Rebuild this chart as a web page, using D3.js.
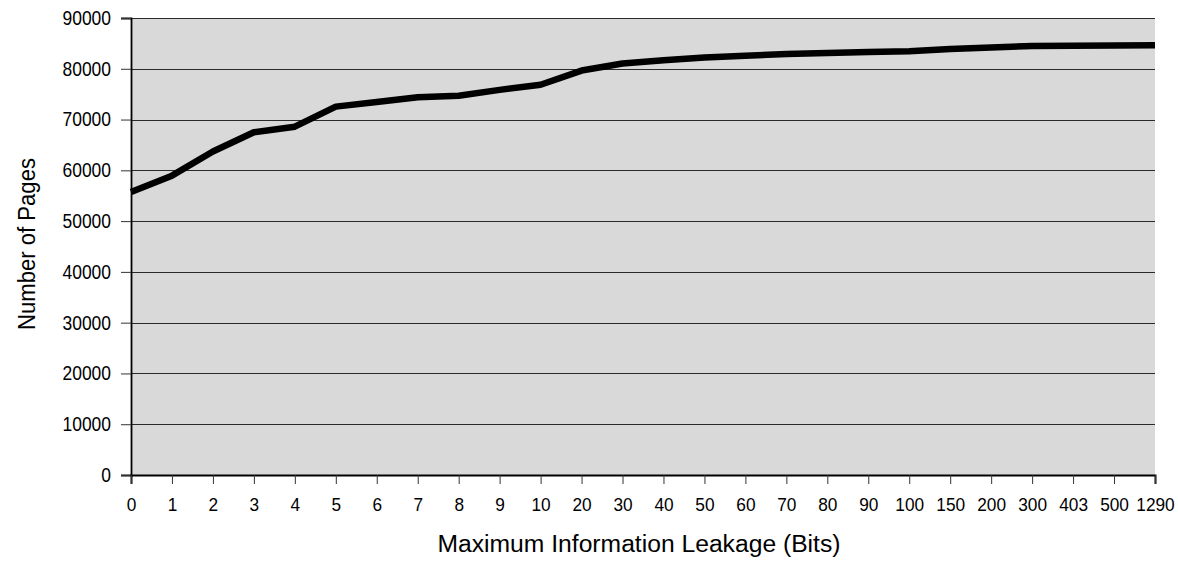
<!DOCTYPE html>
<html>
<head>
<meta charset="utf-8">
<script src="https://cdn.jsdelivr.net/npm/d3@7"></script>
<style>
  html, body { margin: 0; padding: 0; background: #fff; }
  svg { display: block; }
  text { font-family: "Liberation Sans", Arial, sans-serif; fill: #000; }
</style>
</head>
<body>
<script>
const categories = ["0","1","2","3","4","5","6","7","8","9","10","20","30","40","50","60","70","80","90","100","150","200","300","403","500","1290"];
const pages = [55750, 58950, 63700, 67500, 68600, 72550, 73450, 74400, 74700, 75850, 76850, 79650, 81050, 81700, 82200, 82550, 82900, 83100, 83300, 83450, 83900, 84200, 84500, 84550, 84600, 84650];
const yTicks = [0, 10000, 20000, 30000, 40000, 50000, 60000, 70000, 80000, 90000];
const xTitle = "Maximum Information Leakage (Bits)";
const yTitle = "Number of Pages";

const W = 1178, H = 561;
const margin = { left: 131, top: 18, right: W - 1155, bottom: H - 475 };
const iw = W - margin.left - margin.right;
const ih = H - margin.top - margin.bottom;

const svg = d3.select("body").append("svg").attr("width", W).attr("height", H);
const g = svg.append("g").attr("transform", `translate(${margin.left},${margin.top})`);

const x = d3.scalePoint().domain(categories).range([0, iw]);
const y = d3.scaleLinear().domain([0, 90000]).range([ih, 0]);

// plot background
g.append("rect").attr("x", 0).attr("y", 0).attr("width", iw).attr("height", ih).attr("fill", "#d9d9d9");

// gridlines
g.append("g").selectAll("line").data(yTicks.filter(d => d > 0)).join("line")
  .attr("x1", 0).attr("x2", iw)
  .attr("y1", d => Math.round(y(d)) + 0.5).attr("y2", d => Math.round(y(d)) + 0.5)
  .attr("stroke", "#2a2a2a").attr("stroke-width", 1);

// y axis
const yAxis = g.append("g")
  .call(d3.axisLeft(y).tickValues(yTicks).tickSize(10).tickPadding(10).tickFormat(d3.format("d")));
yAxis.select(".domain").attr("stroke", "#000").attr("stroke-width", 1.8);
yAxis.selectAll(".tick line").attr("stroke", "#333");
yAxis.selectAll("text")
  .attr("font-size", 20).attr("font-family", "Liberation Sans, Arial, sans-serif").attr("fill", "#000")
  .attr("textLength", function() { return this.textContent.length * 9.7; })
  .attr("lengthAdjust", "spacingAndGlyphs");

// x axis
const xAxis = g.append("g").attr("transform", `translate(0,${ih})`)
  .call(d3.axisBottom(x).tickSize(9).tickPadding(14));
xAxis.select(".domain").attr("stroke", "#000").attr("stroke-width", 2);
xAxis.selectAll(".tick line").attr("stroke", "#333");
xAxis.selectAll("text")
  .attr("font-size", 19).attr("font-family", "Liberation Sans, Arial, sans-serif").attr("fill", "#000")
  .attr("textLength", function() { return this.textContent.length * 9.6; })
  .attr("lengthAdjust", "spacingAndGlyphs");

// data line
const line = d3.line().x((d, i) => x(categories[i])).y(d => y(d));
g.append("path").datum(pages)
  .attr("d", line)
  .attr("fill", "none")
  .attr("stroke", "#000")
  .attr("stroke-width", 6.5)
  .attr("stroke-linejoin", "round")
  .attr("stroke-linecap", "butt");

// axis titles
svg.append("text")
  .attr("x", 639).attr("y", 552)
  .attr("text-anchor", "middle")
  .attr("font-size", 23)
  .attr("textLength", 403).attr("lengthAdjust", "spacingAndGlyphs")
  .text(xTitle);

svg.append("text")
  .attr("transform", `translate(35,244) rotate(-90)`)
  .attr("text-anchor", "middle")
  .attr("font-size", 23)
  .attr("textLength", 172).attr("lengthAdjust", "spacingAndGlyphs")
  .text(yTitle);
</script>
</body>
</html>
